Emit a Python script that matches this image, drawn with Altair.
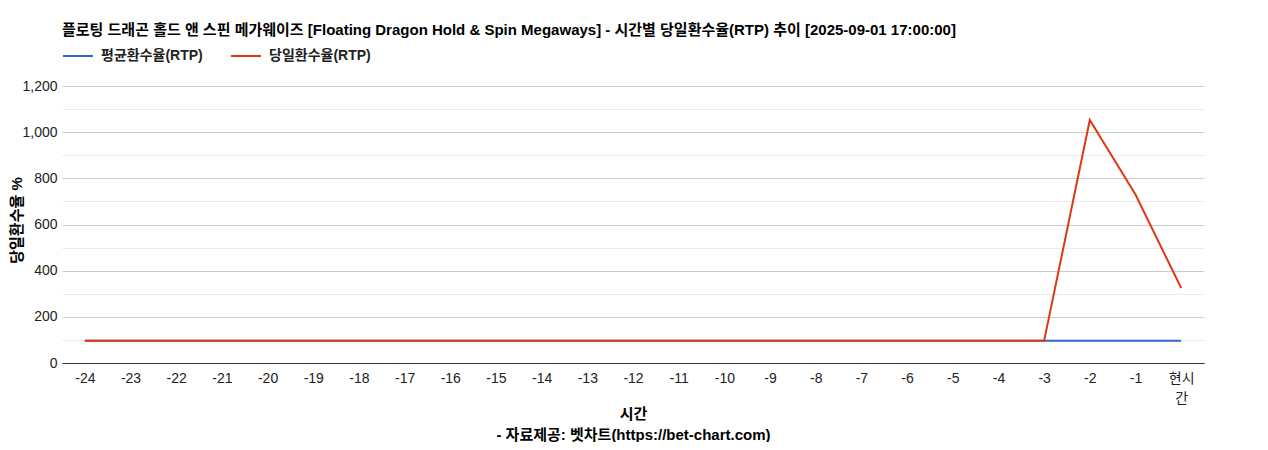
import altair as alt
import pandas as pd

hours = ["-24", "-23", "-22", "-21", "-20", "-19", "-18", "-17", "-16", "-15", "-14", "-13",
         "-12", "-11", "-10", "-9", "-8", "-7", "-6", "-5", "-4", "-3", "-2", "-1", "현시간"]
avg_rtp = [96] * 25
daily_rtp = [96] * 22 + [1053, 730, 325]

series_names = ["평균환수율(RTP)", "당일환수율(RTP)"]
series_colors = ["#3366cc", "#dc3912"]

rows = []
for h, a, d in zip(hours, avg_rtp, daily_rtp):
    rows.append({"hour": h, "series": series_names[0], "value": a})
    rows.append({"hour": h, "series": series_names[1], "value": d})
df = pd.DataFrame(rows)

FONT = "Liberation Sans, Arial, Noto Sans CJK KR"

x_enc = alt.X(
    "hour:N",
    sort=hours,
    scale=alt.Scale(type="point", padding=0.5),
    axis=alt.Axis(
        title=["시간", "- 자료제공: 벳차트(https://bet-chart.com)"],
        titleFontWeight="bold",
        titleFontSize=15,
        titleColor="#000",
        titlePadding=1,
        titleLineHeight=21,
        labelAngle=0,
        labelFontSize=14,
        labelColor="#222",
        labelPadding=8,
        labelExpr="datum.label == '현시간' ? ['현시', '간'] : datum.label",
        labelLineHeight=20,
        ticks=False,
        domainColor="#333",
        grid=False,
    ),
)
y_enc = alt.Y(
    "value:Q",
    scale=alt.Scale(domain=[0, 1200], nice=False),
    axis=alt.Axis(
        title="당일환수율 %",
        titleFontWeight="bold",
        titleFontSize=15,
        titleColor="#000",
        titleX=-38,
        titleY=134,
        titleAlign="center",
        titleAngle=270,
        values=list(range(0, 1201, 100)),
        labelExpr="datum.value % 200 === 0 ? format(datum.value, ',') : ''",
        labelFontSize=14,
        labelColor="#222",
        labelPadding=5,
        ticks=False,
        domain=False,
        gridColor={"condition": {"test": "datum.value % 200 === 0", "value": "#cccccc"}, "value": "#ebebeb"},
        gridWidth=1,
    ),
)
color_enc = alt.Color(
    "series:N",
    scale=alt.Scale(domain=series_names, range=series_colors),
    legend=alt.Legend(
        title=None,
        orient="none",
        legendX=0,
        legendY=-46,
        direction="horizontal",
        symbolType="stroke",
        symbolSize=900,
        symbolStrokeWidth=2,
        labelFontSize=14,
        labelFontWeight="bold",
        labelColor="#222",
        columnPadding=24,
        labelOffset=7,
    ),
)

base = alt.Chart(df).encode(x=x_enc, y=y_enc, color=color_enc)
blue = base.transform_filter(alt.datum.series == series_names[0]).mark_line(strokeWidth=2)
red = base.transform_filter(alt.datum.series == series_names[1]).mark_line(strokeWidth=2)

chart = alt.layer(blue, red).properties(
    width=1142,
    height=277,
    autosize=alt.AutoSizeParams(type="none"),
    padding={"left": 54, "top": 78, "right": 56, "bottom": 79},
    title=alt.TitleParams(
        "플로팅 드래곤 홀드 앤 스핀 메가웨이즈 [Floating Dragon Hold & Spin Megaways] - 시간별 당일환수율(RTP) 추이 [2025-09-01 17:00:00]",
        anchor="start",
        frame="group",
        fontSize=15,
        fontWeight="bold",
        color="#000",
        offset=2,
    ),
).configure(font=FONT).configure_view(stroke=None)

chart.save("out.html", embed_options={"renderer": "svg", "actions": False})
